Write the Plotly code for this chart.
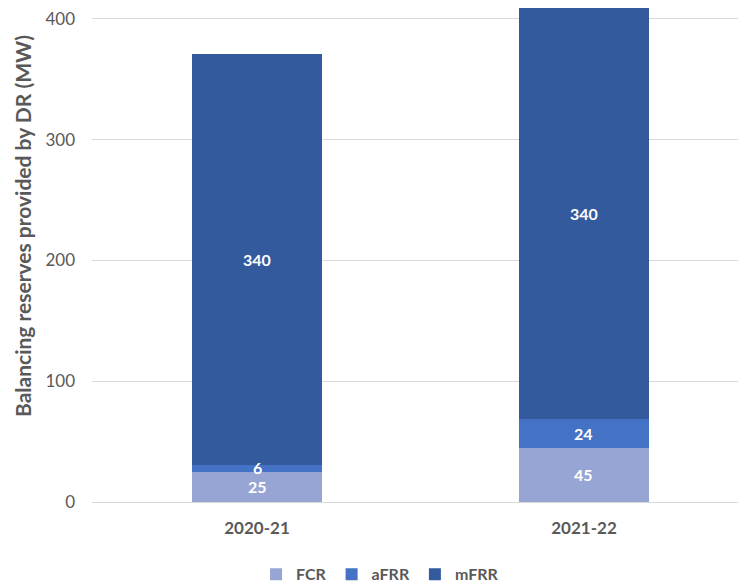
import plotly.graph_objects as go

categories = ["2020-21", "2021-22"]
fcr = [25, 45]
afrr = [6, 24]
mfrr = [340, 340]
series_names = ["FCR", "aFRR", "mFRR"]
colors = ["#96A5D3", "#4472C4", "#345A9E"]
y_ticks = [0, 100, 200, 300, 400]
y_title = "Balancing reserves provided by DR (MW)"

series = [fcr, afrr, mfrr]

fig = go.Figure()
for name, vals, col in zip(series_names, series, colors):
    fig.add_trace(go.Bar(
        name=name, x=categories, y=vals, marker_color=col, marker_line_width=0,
        width=0.398,
    ))

# Data labels centred in each stacked segment (drawn on top of all bars)
annotations = []
for i, cat in enumerate(categories):
    base = 0
    for vals in series:
        v = vals[i]
        annotations.append(dict(
            x=cat, y=base + v / 2, xref="x", yref="y", text=str(v),
            showarrow=False, xanchor="center", yanchor="middle",
            yshift=1 if v < 10 else 0,
            font=dict(family="Lato", size=16, color="white", weight="bold")))
        base += v

annotations.append(dict(text=y_title, textangle=-90, xref="paper", yref="paper",
                        x=(22 - 92) / 646, y=(502 - 226) / 502,
                        xanchor="center", yanchor="middle", showarrow=False,
                        font=dict(family="Lato", size=21, color="#595959", weight="bold")))

fig.update_layout(
    barmode="stack",
    width=738, height=586,
    margin=dict(l=92, r=0, t=0, b=84),
    plot_bgcolor="white", paper_bgcolor="white",
    font=dict(family="Lato", color="#595959"),
    showlegend=True,
    legend=dict(orientation="h", xref="container", yref="container",
                x=0.515, y=0.02, xanchor="center", yanchor="middle",
                font=dict(size=16, color="#595959", weight="bold"),
                itemwidth=30, traceorder="normal", tracegroupgap=0),
    xaxis=dict(type="category", range=[-0.5046, 1.471], showgrid=False,
               showline=False, ticks="", ticklabelstandoff=14,
               tickfont=dict(size=17, color="#595959", weight="bold")),
    yaxis=dict(range=[0, 415.7], tickvals=y_ticks, showgrid=True,
               gridcolor="#D9D9D9", gridwidth=1, zeroline=True,
               zerolinecolor="#D9D9D9", zerolinewidth=1,
               ticks="", ticklabelstandoff=16,
               tickfont=dict(size=17, color="#595959")),
    annotations=annotations,
)
fig.write_html("out.html")
